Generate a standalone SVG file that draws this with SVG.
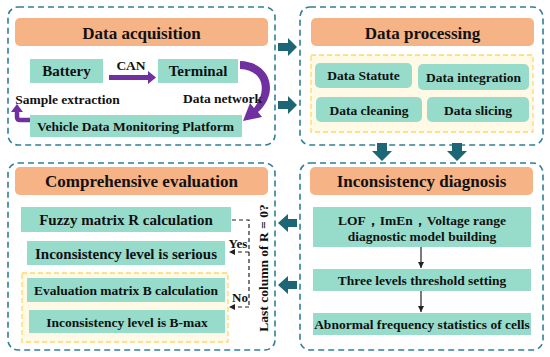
<svg xmlns="http://www.w3.org/2000/svg" width="550" height="357" viewBox="0 0 550 357">
<defs>
<style>
.outer{fill:#fff;stroke:#2f7f97;stroke-width:1.6;stroke-dasharray:6,4}
.hdr{fill:#f6b386}
.box{fill:#97dccb}
.ybox{fill:#fff9e6;stroke:#ffd966;stroke-width:1.3;stroke-dasharray:5,3}
.t{font-family:"Liberation Serif","Times New Roman",serif;font-weight:bold;fill:#111;text-anchor:middle}
.h{font-size:17px}
.m{font-size:15px}
.s{font-size:13.5px}
.barr{fill:#1d6676}
.purple{fill:#7030a0}
.dash{fill:none;stroke:#222;stroke-width:1.2;stroke-dasharray:4,3}
.thin{fill:none;stroke:#222;stroke-width:1.2}
</style>
<marker id="ah" markerWidth="8" markerHeight="8" refX="6" refY="4" orient="auto" markerUnits="userSpaceOnUse">
<path d="M0,1 L6,4 L0,7 Z" fill="#222"/>
</marker>
</defs>
<rect width="550" height="357" fill="#fff"/>

<g id="data-acquisition">
<rect class="outer" x="8" y="7" width="267" height="138" rx="10"/>
<rect class="hdr" x="15" y="18" width="253" height="28" rx="5"/>
<text class="t h" x="141.5" y="38.5">Data acquisition</text>
<g id="battery">
<rect class="box" x="30" y="59" width="73" height="24"/>
<text class="t m" x="66.5" y="76">Battery</text>
</g>
<g id="terminal">
<rect class="box" x="158" y="59" width="80" height="24"/>
<text class="t m" x="198" y="76">Terminal</text>
</g>
<g id="vdmp">
<rect class="box" x="30" y="115" width="212" height="22"/>
<text class="t s" x="135.5" y="131">Vehicle Data Monitoring Platform</text>
</g>
</g>

<g id="data-processing">
<rect class="outer" x="300" y="7" width="243" height="138" rx="10"/>
<rect class="hdr" x="311" y="18" width="223" height="28" rx="5"/>
<text class="t h" x="422.5" y="38.5">Data processing</text>
<rect class="ybox" x="311" y="55" width="222" height="77"/>
<g id="data-statute">
<rect class="box" x="315" y="63" width="97" height="25" rx="5"/>
<text class="t s" x="363.5" y="80">Data Statute</text>
</g>
<g id="data-integration">
<rect class="box" x="418" y="64" width="111" height="26" rx="5"/>
<text class="t s" x="473.5" y="82">Data integration</text>
</g>
<g id="data-cleaning">
<rect class="box" x="316" y="97" width="106" height="25" rx="5"/>
<text class="t s" x="369" y="114.5">Data cleaning</text>
</g>
<g id="data-slicing">
<rect class="box" x="427" y="97" width="102" height="25" rx="5"/>
<text class="t s" x="478" y="114.5">Data slicing</text>
</g>
</g>

<g id="comprehensive-evaluation">
<rect class="outer" x="8" y="163" width="267" height="187" rx="10"/>
<rect class="hdr" x="15" y="167" width="253" height="28" rx="5"/>
<text class="t h" x="141.5" y="187">Comprehensive evaluation</text>
<g id="fuzzy">
<rect class="box" x="21" y="207" width="210" height="25"/>
<text class="t m" x="126" y="225">Fuzzy matrix R calculation</text>
</g>
<g id="serious">
<rect class="box" x="27" y="241" width="198" height="24"/>
<text class="t m" x="126" y="258.5">Inconsistency level is serious</text>
</g>
<rect class="ybox" x="22" y="273" width="206" height="69"/>
<g id="eval-b">
<rect class="box" x="27" y="278" width="198" height="24"/>
<text class="t s" x="126" y="295">Evaluation matrix B calculation</text>
</g>
<g id="bmax">
<rect class="box" x="29" y="310" width="196" height="23"/>
<text class="t s" x="127" y="326.5">Inconsistency level is B-max</text>
</g>
</g>

<g id="inconsistency-diagnosis">
<rect class="outer" x="300" y="163" width="243" height="187" rx="10"/>
<rect class="hdr" x="310" y="167" width="223" height="28" rx="5"/>
<text class="t h" x="421.5" y="187">Inconsistency diagnosis</text>
<g id="lof">
<rect class="box" x="313" y="207" width="218" height="40"/>
<text class="t s" x="422" y="225">LOF，ImEn，Voltage range</text>
<text class="t s" x="422" y="241">diagnostic model building</text>
</g>
<g id="three-levels">
<rect class="box" x="313" y="269" width="218" height="22"/>
<text class="t s" x="422" y="285">Three levels threshold setting</text>
</g>
<g id="abnormal">
<rect class="box" x="313" y="313" width="218" height="22"/>
<text class="t s" x="422" y="329">Abnormal frequency statistics of cells</text>
</g>
</g>

<g id="connectors">
<polygon class="purple" points="109,75 148,75 148,71 156,77.5 148,84 148,80 109,80"/>
<text class="t s" x="131" y="69.5">CAN</text>
<path class="purple" d="M240,61 C272,62 279,94 258,112 L262,117 L243,121 L250,103 L254,108 C268,90 263,70 240,69 Z"/>
<text class="t s" x="222.5" y="102.5">Data network</text>
<path d="M30,120 L20,120 Q17,120 17,117 L17,111" fill="none" stroke="#7030a0" stroke-width="4.5"/>
<polygon class="purple" points="11,112 23,112 17,104"/>
<text class="t s" x="67.5" y="103.5">Sample extraction</text>

<polygon class="barr" points="278,43 288,43 288,38 297,47 288,56 288,51 278,51"/>
<polygon class="barr" points="278,101 288,101 288,96 297,105 288,114 288,109 278,109"/>
<polygon class="barr" points="377,143 387,143 387,151 392,151 382,161 372,151 377,151"/>
<polygon class="barr" points="452,143 462,143 462,151 467,151 457,161 447,151 452,151"/>
<polygon class="barr" points="297,219 288,219 288,214 278,223 288,232 288,227 297,227"/>
<polygon class="barr" points="297,281 288,281 288,276 278,285 288,294 288,289 297,289"/>

<line class="thin" x1="421" y1="247" x2="421" y2="268" marker-end="url(#ah)"/>
<line class="thin" x1="421" y1="291" x2="421" y2="312" marker-end="url(#ah)"/>

<path class="dash" d="M232,220 L249,220 L249,307"/>
<line class="dash" x1="249" y1="252" x2="229" y2="252" marker-end="url(#ah)"/>
<line class="dash" x1="249" y1="307" x2="229" y2="307" marker-end="url(#ah)"/>
<text class="t s" x="238" y="247.5" style="font-size:13px">Yes</text>
<text class="t s" x="240" y="302" style="font-size:13px">No</text>
<text class="t s" transform="translate(267.5,268) rotate(-90)">Last column of R = 0?</text>
</g>
</svg>
